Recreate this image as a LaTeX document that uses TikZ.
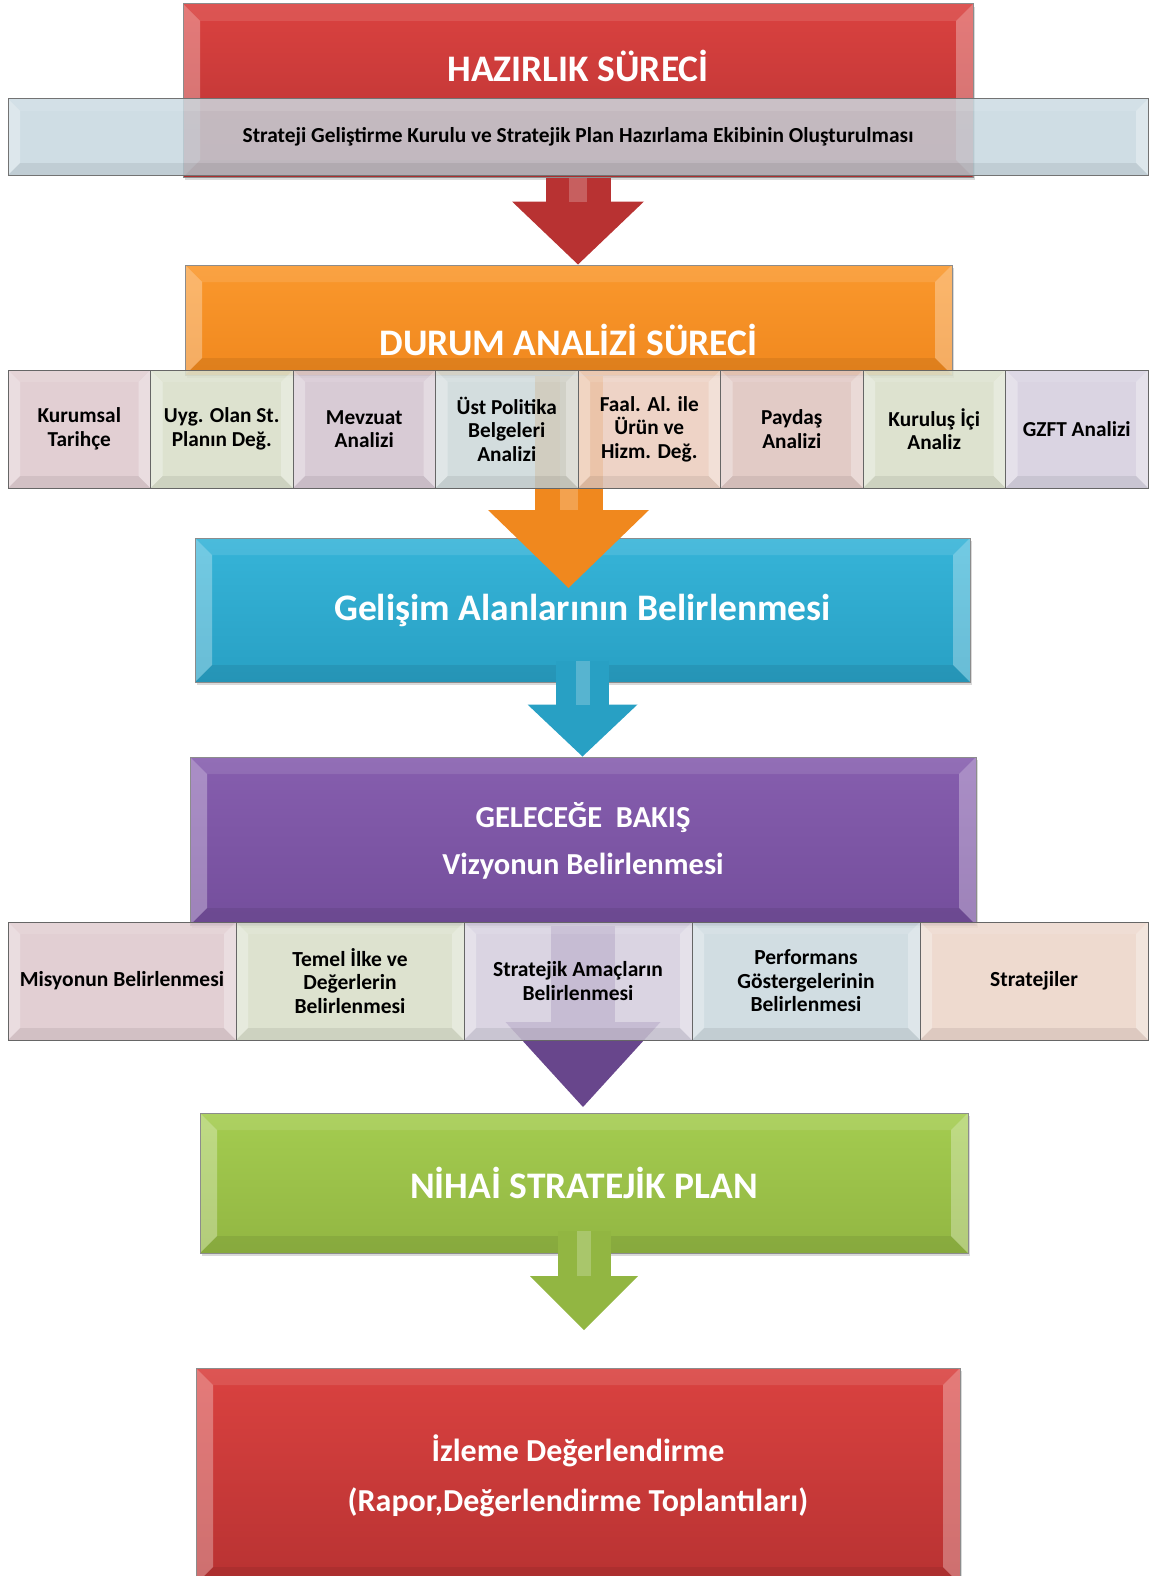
\documentclass[tikz,border=0pt]{standalone}
\usepackage{fontspec}
\setmainfont{Carlito}
\usetikzlibrary{arrows.meta,shadows}

\definecolor{kirmizi}{RGB}{218,66,64}
\definecolor{kirmizikoyu}{RGB}{184,50,50}
\definecolor{turuncu}{RGB}{250,152,45}
\definecolor{turuncukoyu}{RGB}{240,136,30}
\definecolor{mavi}{RGB}{54,180,216}
\definecolor{mavikoyu}{RGB}{40,160,196}
\definecolor{mor}{RGB}{134,94,174}
\definecolor{morkoyu}{RGB}{116,78,156}
\definecolor{yesil}{RGB}{164,204,80}
\definecolor{yesilkoyu}{RGB}{146,182,66}
\definecolor{gri}{RGB}{196,214,222}
\definecolor{pembe}{RGB}{222,200,205}
\definecolor{fistik}{RGB}{216,222,200}
\definecolor{leylak}{RGB}{210,195,207}
\definecolor{gumus}{RGB}{205,216,217}
\definecolor{seftali}{RGB}{235,205,190}
\definecolor{gul}{RGB}{222,195,190}
\definecolor{lavanta}{RGB}{212,206,222}
\definecolor{buz}{RGB}{202,216,222}
\definecolor{ten}{RGB}{235,212,200}

\begin{document}
\begin{tikzpicture}
  [x=1pt,y=-1pt,
   bevel/.style={path picture={
     \fill[white,opacity=.3] (path picture bounding box.north west) -- ++(#1,-#1) -- ([shift={(#1,#1)}]path picture bounding box.south west) -- (path picture bounding box.south west) -- cycle;
     \fill[white,opacity=.3] (path picture bounding box.north east) -- ++(-#1,-#1) -- ([shift={(-#1,#1)}]path picture bounding box.south east) -- (path picture bounding box.south east) -- cycle;
     \fill[white,opacity=.1] (path picture bounding box.north west) -- ++(#1,-#1) -- ([shift={(-#1,-#1)}]path picture bounding box.north east) -- (path picture bounding box.north east) -- cycle;
     \fill[black,opacity=.07] (path picture bounding box.south west) -- ++(#1,#1) -- ([shift={(-#1,#1)}]path picture bounding box.south east) -- (path picture bounding box.south east) -- cycle;}},
   kutu/.style={draw=black!45,line width=1pt,inner sep=0pt,align=center,text=white,
     font=\fontsize{37.5}{40}\selectfont\bfseries,bevel=17pt,
     drop shadow={opacity=.3,shadow xshift=2pt,shadow yshift=-3pt}},
   baslik/.style={text=white,font=\fontsize{37.5}{40}\selectfont\bfseries},
   serit/.style={draw=black!55,line width=1pt,fill=gri,fill opacity=.82,text opacity=1,
     minimum width=1140pt,minimum height=76pt,font=\fontsize{21.4}{24}\selectfont\bfseries,bevel=12pt},
   dilim/.style={draw=black!60,line width=1pt,fill opacity=.87,text opacity=1,inner sep=2pt,
     align=center,minimum width=142.5pt,minimum height=118pt,
     font=\fontsize{21.3}{23.5}\selectfont\bfseries,bevel=12pt},
   genis/.style={dilim,minimum width=228pt,font=\fontsize{21.5}{23.5}\selectfont\bfseries},
   parilti/.style 2 args={postaction={draw=white,draw opacity=.22,line width=#1,arrows=-,shorten >=#2}},
   okkirmizi/.style={line width=65pt,draw=kirmizikoyu,-{Triangle[length=63pt,width=132pt,line width=0pt]},parilti={18pt}{63pt}},
   okturuncu/.style={line width=68pt,draw=turuncukoyu,-{Triangle[length=78pt,width=161pt,line width=0pt]},parilti={18pt}{78pt}},
   okmavi/.style={line width=53pt,draw=mavikoyu,-{Triangle[length=52pt,width=110pt,line width=0pt]},parilti={14pt}{52pt}},
   okmor/.style={line width=64pt,draw=morkoyu!90!black,-{Triangle[length=85pt,width=155pt,line width=0pt]}},
   okyesil/.style={line width=53pt,draw=yesilkoyu,-{Triangle[length=54pt,width=108pt,line width=0pt]},parilti={14pt}{54pt}}]
  \useasboundingbox (0,0) rectangle (1157,1576);

  \node[kutu,top color=kirmizi,bottom color=kirmizikoyu,minimum width=790pt,minimum height=173pt] (hazirlik) at (578,90.5) {};
  \node[baslik] (hazirlikyazi) at (578,66) {HAZIRLIK SÜRECİ};
  \node[serit] (kurul) at (578,137) {Strateji Geliştirme Kurulu ve Stratejik Plan Hazırlama Ekibinin Oluşturulması};

  \node[kutu,top color=turuncu,bottom color=turuncukoyu,minimum width=767pt,minimum height=110pt] (durum) at (568.5,320) {};
  \node[baslik] (durumyazi) at (568.5,340) {DURUM ANALİZİ SÜRECİ};
  \draw[okkirmizi] (hazirlik.south) -- (hazirlik.south |- durum.north);

  \node[kutu,top color=mavi,bottom color=mavikoyu,minimum width=775pt,minimum height=144pt] (gelisim) at (582.5,610) {Gelişim Alanlarının Belirlenmesi};
  \coordinate (turuncuuc) at (568.5,588);
  \draw[okturuncu] (durum.south) -- (turuncuuc);

  \node[dilim,fill=pembe] (tarihce) at (79.25,429) {Kurumsal\\Tarihçe};
  \node[dilim,fill=fistik] (uygulanan) at (221.75,429) {Uyg. Olan St.\\Planın Değ.};
  \node[dilim,fill=leylak] (mevzuat) at (364.25,429) {Mevzuat\\Analizi};
  \node[dilim,fill=gumus] (ustpolitika) at (506.75,429) {Üst Politika\\Belgeleri\\Analizi};
  \node[dilim,fill=seftali] (faaliyet) at (649.25,429) {Faal. Al. ile\\Ürün ve\\Hizm. Değ.};
  \node[dilim,fill=gul] (paydas) at (791.75,429) {Paydaş\\Analizi};
  \node[dilim,fill=fistik] (kurulusici) at (934.25,429) {Kuruluş İçi\\Analiz};
  \node[dilim,fill=lavanta] (gzft) at (1076.75,429) {GZFT Analizi};

  \node[kutu,top color=mor,bottom color=morkoyu,minimum width=786pt,minimum height=168pt,
    font=\fontsize{30.5}{47}\selectfont\bfseries] (gelecek) at (583,841) {GELECEĞE\ \ BAKIŞ\\Vizyonun Belirlenmesi};
  \draw[okmavi] ([yshift=22pt]gelisim.south) -- (gelisim.south |- gelecek.north);

  \node[kutu,top color=yesil,bottom color=yesilkoyu,minimum width=768pt,minimum height=140pt] (nihai) at (584,1183) {NİHAİ STRATEJİK PLAN};
  \coordinate (moruc) at (583,1107);
  \draw[okmor] (gelecek.south) -- (moruc);

  \node[genis,fill=pembe] (misyon) at (122,981) {Misyonun Belirlenmesi};
  \node[genis,fill=fistik] (ilkeler) at (350,981) {Temel İlke ve\\Değerlerin\\Belirlenmesi};
  \node[genis,fill=lavanta] (amaclar) at (578,981) {Stratejik Amaçların\\Belirlenmesi};
  \node[genis,fill=buz] (gostergeler) at (806,981) {Performans\\Göstergelerinin\\Belirlenmesi};
  \node[genis,fill=ten] (stratejiler) at (1034,981) {Stratejiler};

  \node[kutu,top color=kirmizi,bottom color=kirmizikoyu,minimum width=764pt,minimum height=216pt,
    font=\fontsize{32}{50}\selectfont\bfseries] (izleme) at (578,1476) {İzleme Değerlendirme\\(Rapor,Değerlendirme Toplantıları)};
  \coordinate (yesiluc) at (584,1330);
  \draw[okyesil] ([yshift=23pt]nihai.south) -- (yesiluc);
\end{tikzpicture}
\end{document}
